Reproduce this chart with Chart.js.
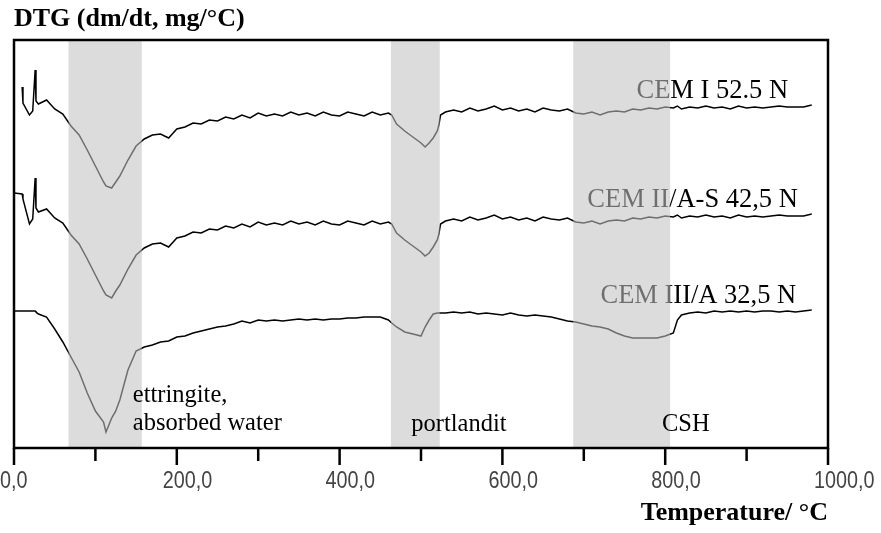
<!DOCTYPE html>
<html>
<head>
<meta charset="utf-8">
<script src="https://cdn.jsdelivr.net/npm/chart.js@4.4.0/dist/chart.umd.min.js"></script>
<style>
  html, body { margin: 0; padding: 0; background: #fff; }
  #wrap { width: 881px; height: 533px; }
</style>
</head>
<body>
<div id="wrap"><canvas id="dtgChart" width="881" height="533"></canvas></div>
<script>
// ===============================================
// 1. Data (traces stacked with an offset)
// ===============================================
const temps = [0, 10, 11, 19, 23, 26, 27, 30, 40, 50, 60, 70, 80, 90, 100, 110, 113, 120, 125, 130,
  140, 150, 160, 170, 180, 190, 200, 210, 220, 230, 240, 250, 260, 270, 280, 290, 300, 310, 320, 330,
  340, 350, 360, 370, 380, 390, 400, 410, 420, 430, 440, 450, 460, 464, 470, 480, 490, 500, 505, 510,
  515, 520, 522, 524, 530, 540, 550, 560, 570, 580, 590, 600, 610, 620, 630, 640, 650, 660, 670, 680,
  690, 700, 710, 720, 730, 740, 750, 760, 770, 780, 790, 800, 810, 815, 820, 830, 840, 850, 860, 870,
  880, 890, 900, 910, 920, 930, 940, 950, 960, 970, 980];

const cemI = [null, 3.61, 3.45, 3.33, 3.37, 3.78, 3.47, 3.44, 3.48, 3.39,
  3.34, 3.22, 3.13, 2.98, 2.82, 2.66, 2.62, 2.60, 2.66, 2.72,
  2.88, 3.02, 3.09, 3.13, 3.14, 3.10, 3.19, 3.21, 3.25, 3.24,
  3.28, 3.27, 3.31, 3.29, 3.33, 3.30, 3.35, 3.32, 3.34, 3.32,
  3.36, 3.33, 3.35, 3.32, 3.36, 3.33, 3.32, 3.36, 3.34, 3.32,
  3.36, 3.33, 3.35, 3.33, 3.24, 3.17, 3.11, 3.05, 3.01, 3.05,
  3.10, 3.17, 3.23, 3.33, 3.36, 3.38, 3.36, 3.40, 3.37, 3.39,
  3.42, 3.38, 3.40, 3.37, 3.39, 3.36, 3.40, 3.38, 3.37, 3.39,
  3.35, 3.34, 3.36, 3.33, 3.36, 3.37, 3.36, 3.39, 3.38, 3.40,
  3.39, 3.41, 3.40, 3.42, 3.39, 3.41, 3.40, 3.42, 3.40, 3.41,
  3.39, 3.42, 3.40, 3.41, 3.40, 3.41, 3.42, 3.41, 3.41, 3.41, 3.43];

const cemII = [2.55, 2.54, 2.49, 2.24, 2.29, 2.70, 2.40, 2.36, 2.39, 2.30,
  2.25, 2.13, 2.04, 1.89, 1.73, 1.57, 1.53, 1.50, 1.57, 1.63,
  1.79, 1.93, 2.00, 2.04, 2.05, 2.01, 2.10, 2.12, 2.16, 2.15,
  2.19, 2.18, 2.22, 2.20, 2.24, 2.21, 2.26, 2.23, 2.25, 2.23,
  2.27, 2.24, 2.26, 2.23, 2.27, 2.24, 2.23, 2.27, 2.25, 2.23,
  2.27, 2.24, 2.26, 2.24, 2.15, 2.08, 2.02, 1.96, 1.92, 1.95,
  2.01, 2.08, 2.14, 2.24, 2.27, 2.29, 2.27, 2.31, 2.28, 2.30,
  2.33, 2.29, 2.31, 2.28, 2.30, 2.27, 2.31, 2.29, 2.28, 2.30,
  2.26, 2.25, 2.27, 2.24, 2.27, 2.28, 2.27, 2.30, 2.29, 2.31,
  2.30, 2.32, 2.31, 2.33, 2.30, 2.32, 2.31, 2.33, 2.31, 2.32,
  2.30, 2.33, 2.31, 2.32, 2.31, 2.32, 2.33, 2.32, 2.32, 2.32, 2.34];

const cemIII = [1.37, 1.37, 1.37, 1.37, 1.37, 1.37, 1.36, 1.34, 1.31, 1.19,
  1.06, 0.91, 0.76, 0.55, 0.37, 0.26, 0.16, 0.30, 0.37, 0.48,
  0.78, 0.97, 1.01, 1.03, 1.06, 1.07, 1.11, 1.12, 1.15, 1.17,
  1.19, 1.21, 1.22, 1.24, 1.27, 1.25, 1.28, 1.27, 1.28, 1.27,
  1.28, 1.29, 1.28, 1.29, 1.28, 1.29, 1.29, 1.30, 1.30, 1.31,
  1.31, 1.31, 1.28, 1.25, 1.21, 1.16, 1.14, 1.12, 1.21, 1.28,
  1.34, 1.35, 1.35, 1.35, 1.35, 1.36, 1.35, 1.36, 1.34, 1.35,
  1.34, 1.33, 1.35, 1.33, 1.32, 1.33, 1.32, 1.31, 1.29, 1.27,
  1.26, 1.24, 1.22, 1.21, 1.19, 1.15, 1.12, 1.10, 1.10, 1.10,
  1.10, 1.12, 1.15, 1.28, 1.33, 1.35, 1.36, 1.35, 1.37, 1.36,
  1.37, 1.36, 1.37, 1.36, 1.37, 1.37, 1.36, 1.37, 1.36, 1.37, 1.38];

// shaded decomposition ranges (°C)
const bandStart = [67, 463, 687];
const bandEnd = [157, 523, 806];

// trace names, anchored at their right end (°C, DTG units)
const seriesNames = ['CEM I 52.5 N', 'CEM II/A-S 42,5 N', 'CEM III/A 32,5 N'];
const seriesNameT = [951, 963, 961];
const seriesNameV = [3.50, 2.41, 1.45];

// phase labels, anchored at their left end
const phaseNames = ['ettringite,', 'absorbed water', 'portlandit', 'CSH'];
const phaseT = [146, 146, 488, 796];
const phaseV = [0.46, 0.18, 0.17, 0.17];

// ===============================================
// 2. Drawing helpers
// ===============================================
const SERIF = '"Liberation Serif", "Times New Roman", serif';

const overlayPlugin = {
    id: 'overlay',
    afterDatasetsDraw(chart) {
        const { ctx, chartArea: a, scales: { x, y } } = chart;
        ctx.save();

        // trace names first, so the shading greys them like in the original
        ctx.font = '26.5px ' + SERIF;
        ctx.fillStyle = '#000';
        ctx.textAlign = 'right';
        ctx.textBaseline = 'alphabetic';
        seriesNames.forEach((name, i) => {
            ctx.fillText(name, x.getPixelForValue(seriesNameT[i]), y.getPixelForValue(seriesNameV[i]));
        });

        // translucent grey bands
        ctx.fillStyle = 'rgba(193, 193, 193, 0.57)';
        bandStart.forEach((s, i) => {
            const x0 = x.getPixelForValue(s);
            const x1 = x.getPixelForValue(bandEnd[i]);
            ctx.fillRect(x0, a.top, x1 - x0, a.bottom - a.top);
        });

        // phase labels on top
        ctx.font = '24.5px ' + SERIF;
        ctx.fillStyle = '#000';
        ctx.textAlign = 'left';
        phaseNames.forEach((name, i) => {
            ctx.fillText(name, x.getPixelForValue(phaseT[i]), y.getPixelForValue(phaseV[i]));
        });
        ctx.restore();
    },
    afterDraw(chart) {
        const { ctx, chartArea: a, scales: { x } } = chart;
        ctx.save();
        ctx.strokeStyle = '#000';
        ctx.lineWidth = 2.5;
        ctx.strokeRect(a.left, a.top, a.right - a.left, a.bottom - a.top);

        // major ticks every 200, shorter ones in between
        ctx.beginPath();
        x.ticks.forEach(t => {
            const px = x.getPixelForValue(t.value);
            const len = t.value % 200 === 0 ? 17 : 13;
            ctx.moveTo(px, a.bottom);
            ctx.lineTo(px, a.bottom + len);
        });
        ctx.stroke();

        // narrow tick labels, left edge a bit before the tick like the original
        ctx.font = '23px "Liberation Sans", Arial, sans-serif';
        ctx.fillStyle = '#444';
        ctx.textAlign = 'left';
        ctx.textBaseline = 'alphabetic';
        x.ticks.forEach(t => {
            if (!t.label) return;
            ctx.save();
            ctx.translate(x.getPixelForValue(t.value) - 14, a.bottom + 40);
            ctx.scale(0.86, 1);
            ctx.fillText(t.label, 0, 0);
            ctx.restore();
        });
        ctx.restore();
    }
};

// ===============================================
// 3. Chart
// ===============================================
function trace(label, data) {
    return {
        label: label,
        data: data,
        borderColor: '#000',
        borderWidth: 1.5,
        pointRadius: 0,
        tension: 0,
        fill: false
    };
}

new Chart(document.getElementById('dtgChart'), {
    type: 'line',
    data: {
        labels: temps,
        datasets: [
            trace(seriesNames[0], cemI),
            trace(seriesNames[1], cemII),
            trace(seriesNames[2], cemIII)
        ]
    },
    options: {
        responsive: false,
        animation: false,
        layout: { padding: { left: 14, right: 53, top: 0, bottom: 0 } },
        plugins: {
            legend: { display: false },
            tooltip: { enabled: false },
            title: {
                display: true,
                text: 'DTG (dm/dt, mg/°C)',
                align: 'start',
                color: '#000',
                font: { family: SERIF, size: 26, weight: 'bold', lineHeight: 1.2 },
                padding: { top: 4, bottom: 4.8 }
            }
        },
        scales: {
            x: {
                type: 'linear',
                min: 0,
                max: 1000,
                afterFit(scale) {
                    scale.height = 85;
                    scale.paddingLeft = 0;
                    scale.paddingRight = 0;
                },
                grid: { display: true, drawOnChartArea: false, drawTicks: true, tickLength: 17, tickColor: 'rgba(0,0,0,0)' },
                border: { display: false },
                ticks: {
                    display: false,
                    stepSize: 100,
                    autoSkip: false,
                    maxRotation: 0,
                    callback: v => (v % 200 === 0 ? v.toFixed(1).replace('.', ',') : '')
                },
                title: {
                    display: true,
                    text: 'Temperature/ °C',
                    align: 'end',
                    color: '#000',
                    font: { family: SERIF, size: 26, weight: 'bold', lineHeight: 1.2 },
                    padding: { top: 0, bottom: 4 }
                }
            },
            y: { display: false, min: 0, max: 4.08 }
        }
    },
    plugins: [overlayPlugin]
});
</script>
</body>
</html>
